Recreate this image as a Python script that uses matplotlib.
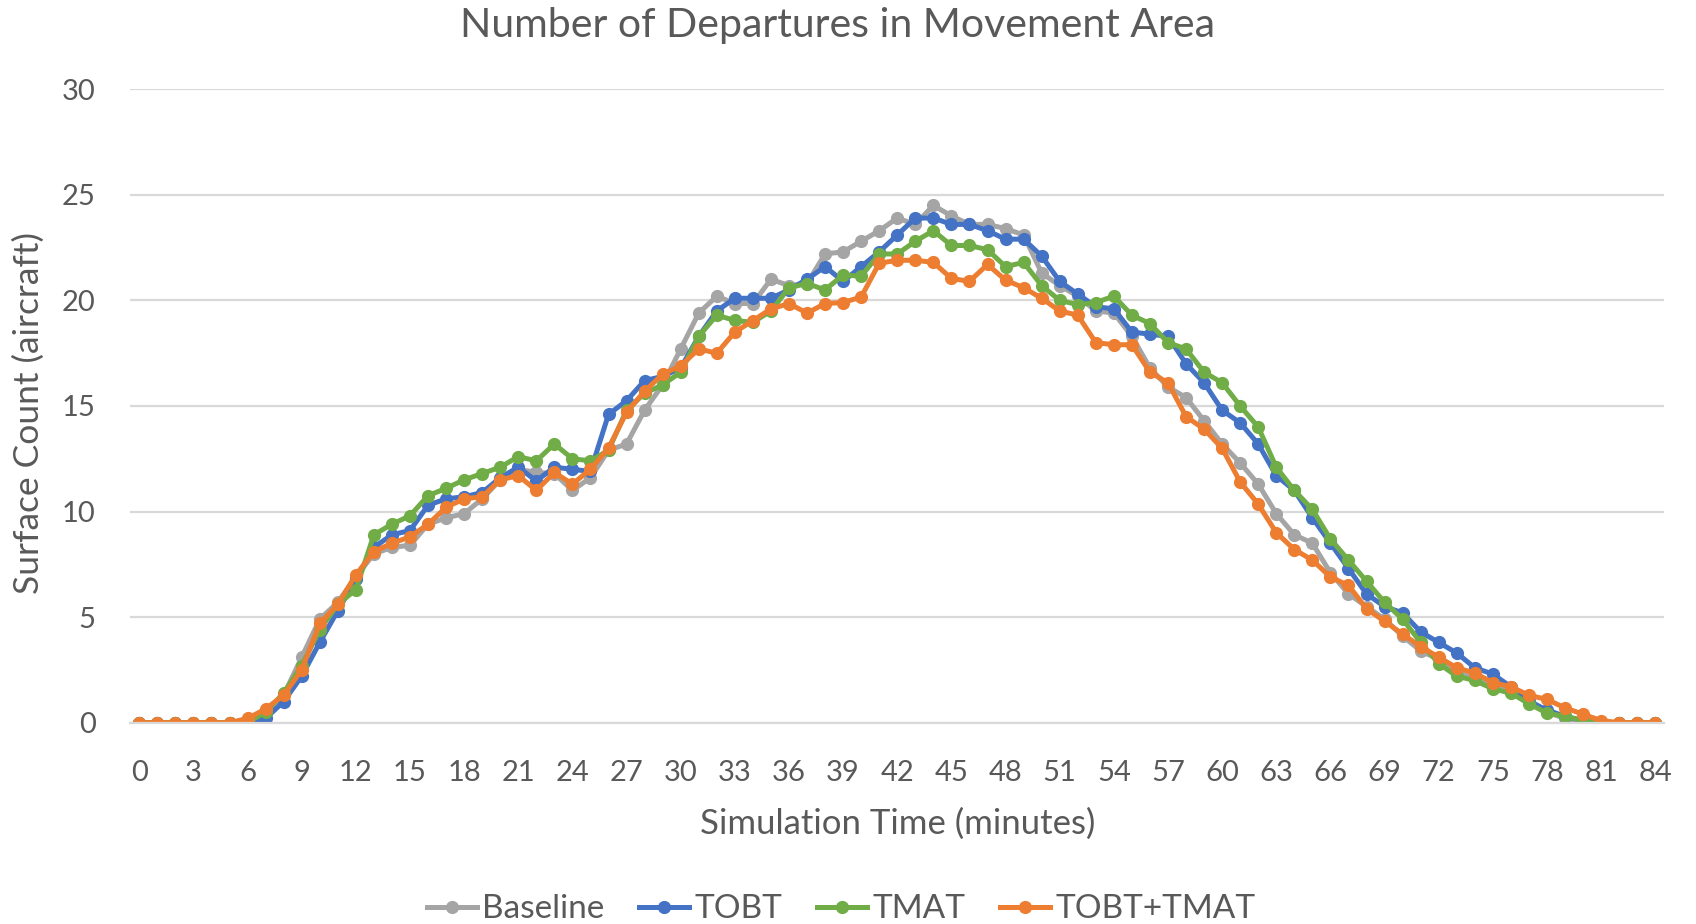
import matplotlib
matplotlib.use("Agg")
import matplotlib.pyplot as plt
from matplotlib.lines import Line2D

minutes = list(range(85))
x_ticks = list(range(0, 85, 3))
y_ticks = [0, 5, 10, 15, 20, 25, 30]

baseline = [0, 0, 0, 0, 0, 0, 0.1, 0.5, 1.3, 3.1,
            4.9, 5.7, 6.9, 8.0, 8.3, 8.4, 9.4, 9.7, 9.9, 10.6,
            11.5, 12.0, 11.85, 11.8, 11.0, 11.6, 12.9, 13.2, 14.8, 16.0,
            17.7, 19.4, 20.2, 19.85, 19.85, 21.0, 20.7, 20.8, 22.2, 22.3,
            22.8, 23.3, 23.9, 23.6, 24.5, 24.0, 23.6, 23.6, 23.4, 23.1,
            21.3, 20.7, 20.2, 19.5, 19.4, 18.3, 16.8, 15.9, 15.4, 14.3,
            13.2, 12.3, 11.3, 9.9, 8.9, 8.5, 7.1, 6.1, 5.5, 4.9,
            4.1, 3.4, 3.0, 2.4, 2.1, 1.7, 1.5, 1.1, 0.5, 0.2,
            0, 0, 0, 0, 0]

tobt = [0, 0, 0, 0, 0, 0, 0, 0.2, 1.0, 2.2,
        3.8, 5.3, 6.8, 8.3, 8.9, 9.1, 10.3, 10.6, 10.7, 10.9,
        11.6, 12.1, 11.45, 12.1, 12.0, 11.9, 14.6, 15.25, 16.2, 16.4,
        16.8, 18.3, 19.5, 20.1, 20.1, 20.1, 20.5, 21.0, 21.6, 20.9,
        21.6, 22.3, 23.1, 23.9, 23.9, 23.6, 23.6, 23.3, 22.9, 22.9,
        22.1, 20.9, 20.3, 19.7, 19.6, 18.5, 18.4, 18.3, 17.0, 16.1,
        14.8, 14.2, 13.2, 11.7, 11.0, 9.7, 8.5, 7.3, 6.1, 5.5,
        5.2, 4.3, 3.8, 3.3, 2.6, 2.3, 1.7, 1.0, 0.6, 0.3,
        0.1, 0, 0, 0, 0]

tmat = [0, 0, 0, 0, 0, 0, 0, 0.5, 1.4, 2.7,
        4.4, 5.6, 6.3, 8.9, 9.4, 9.8, 10.75, 11.1, 11.5, 11.8,
        12.1, 12.6, 12.4, 13.2, 12.5, 12.4, 12.9, 14.8, 15.6, 16.0,
        16.6, 18.3, 19.3, 19.05, 18.96, 19.5, 20.6, 20.8, 20.5, 21.2,
        21.15, 22.2, 22.2, 22.8, 23.3, 22.6, 22.6, 22.4, 21.6, 21.8,
        20.7, 20.0, 19.8, 19.9, 20.2, 19.3, 18.9, 18.0, 17.7, 16.6,
        16.1, 15.0, 14.0, 12.1, 11.0, 10.1, 8.7, 7.7, 6.7, 5.7,
        4.9, 3.8, 2.8, 2.2, 2.0, 1.6, 1.4, 0.9, 0.45, 0.3,
        0.1, 0, 0, 0, 0]

tobt_tmat = [0, 0, 0, 0, 0, 0, 0.2, 0.65, 1.3, 2.5,
             4.7, 5.6, 7.0, 8.1, 8.5, 8.8, 9.4, 10.2, 10.6, 10.7,
             11.5, 11.7, 11.0, 11.85, 11.3, 12.0, 13.0, 14.7, 15.7, 16.5,
             16.9, 17.7, 17.5, 18.5, 19.04, 19.6, 19.85, 19.4, 19.85, 19.9,
             20.16, 21.76, 21.9, 21.9, 21.8, 21.04, 20.9, 21.7, 20.96, 20.6,
             20.1, 19.5, 19.3, 18.0, 17.9, 17.9, 16.6, 16.1, 14.5, 13.9,
             13.0, 11.4, 10.35, 9.0, 8.2, 7.7, 6.9, 6.5, 5.4, 4.8,
             4.2, 3.6, 3.1, 2.6, 2.35, 1.9, 1.7, 1.3, 1.1, 0.7,
             0.4, 0.1, 0, 0, 0]

series_names = ["Baseline", "TOBT", "TMAT", "TOBT+TMAT"]
series_colors = ["#A5A5A5", "#4472C4", "#70AD47", "#ED7D31"]
series_values = [baseline, tobt, tmat, tobt_tmat]

TEXT = "#595959"
plt.rcParams["font.family"] = ["Lato", "DejaVu Sans"]

fig = plt.figure(figsize=(16.96, 9.24), dpi=100)
ax = fig.add_axes([0.0768, 0.2179, 0.9045, 0.6855])

for name, color, vals in zip(series_names, series_colors, series_values):
    ax.plot(minutes, vals, color=color, lw=3.6, marker="o", ms=9.5,
            markeredgewidth=0, label=name, solid_joinstyle="round",
            solid_capstyle="round")

ax.set_xlim(-0.5, 84.5)
ax.set_ylim(0, 30)
ax.set_xticks(x_ticks)
ax.set_yticks(y_ticks)
ax.tick_params(axis="both", length=0, labelsize=21, labelcolor=TEXT)
ax.tick_params(axis="y", pad=25)
ax.tick_params(axis="x", pad=27)
ax.grid(axis="y", color="#D9D9D9", lw=1.6)
ax.set_axisbelow(True)
for side in ["top", "right", "left"]:
    ax.spines[side].set_visible(False)
ax.spines["bottom"].set_color("#D9D9D9")
ax.spines["bottom"].set_linewidth(1.6)

fig.text(0.494, 0.9603, "Number of Departures in Movement Area",
         ha="center", va="baseline", fontsize=29.5, color=TEXT)
fig.text(0.5295, 0.0974, "Simulation Time (minutes)",
         ha="center", va="baseline", fontsize=25, color=TEXT)
fig.text(0.0171, 0.553, "Surface Count (aircraft)", rotation=90,
         ha="center", va="center", fontsize=25.5, color=TEXT)

handles = [Line2D([0], [0], color=c, lw=3.6, marker="o", ms=9.5,
                  markeredgewidth=0) for c in series_colors]
fig.legend(handles, series_names, loc="center", ncol=4,
           bbox_to_anchor=(0.496, 0.016), frameon=False, fontsize=24,
           labelcolor=TEXT, handlelength=1.5, handletextpad=0.15,
           columnspacing=1.05)

fig.savefig("out.png", dpi=100)
